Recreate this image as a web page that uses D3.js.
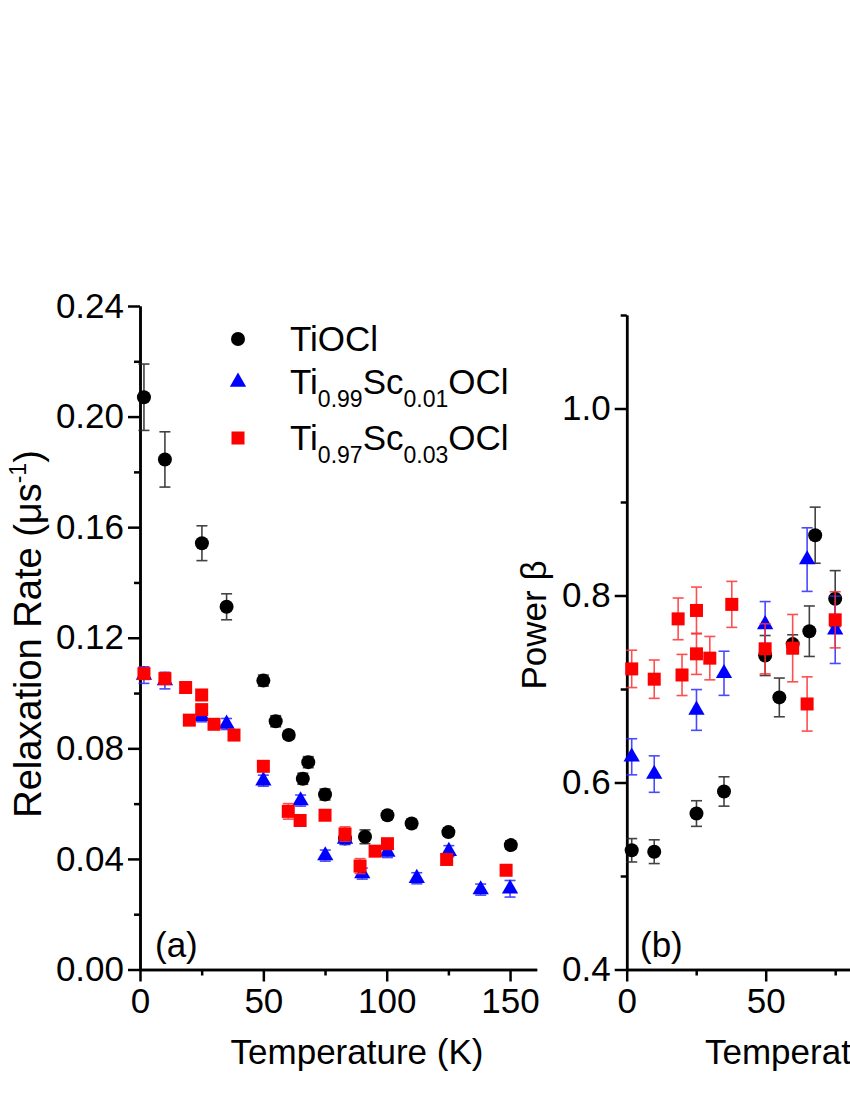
<!DOCTYPE html>
<html>
<head>
<meta charset="utf-8">
<script src="https://cdn.jsdelivr.net/npm/d3@7"></script>
<style>
  body { margin: 0; background: #fff; }
  svg { font-family: "Liberation Sans", Arial, sans-serif; }
</style>
</head>
<body>
<script>
// panel (a) relaxation rate, rows are [T (K), rate (1/us), error]
const rateTiOCl = [
  [1.6, 0.207, 0.012], [10.1, 0.1845, 0.010], [25.1, 0.1542, 0.0063], [35.1, 0.1312, 0.0047],
  [50, 0.1045, 0.002], [55, 0.0898, 0.002], [60.3, 0.0848, 0.0015], [66, 0.069, 0.002],
  [68.2, 0.075, 0.002], [75, 0.0633, 0.002], [83.1, 0.0474, 0.002], [91.2, 0.048, 0.0025],
  [100.3, 0.0558, 0.0015], [110.1, 0.0528, 0.0015], [125, 0.0497, 0.0015], [150.3, 0.045, 0.0015]
];
const rateSc01 = [
  [1.6, 0.1065, 0.003], [10.1, 0.1045, 0.003], [25, 0.0916, 0.002], [35.1, 0.0888, 0.002],
  [50, 0.0683, 0.002], [65.1, 0.0611, 0.002], [75.1, 0.0412, 0.002], [83.1, 0.0472, 0.002],
  [90.1, 0.0347, 0.002], [100.3, 0.0425, 0.002], [112.2, 0.033, 0.002], [125.2, 0.0428, 0.002],
  [138.1, 0.0289, 0.002], [150, 0.0292, 0.003]
];
const rateSc03 = [
  [1.6, 0.107, 0.002], [10.1, 0.1052, 0.002], [18.5, 0.102, 0.0015], [20, 0.0902, 0.0015],
  [25, 0.0993, 0.0015], [25, 0.094, 0.0015], [30, 0.0887, 0.0015], [38.1, 0.0848, 0.0015],
  [50, 0.0735, 0.0015], [60.1, 0.0572, 0.0028], [64.9, 0.0539, 0.0015], [75, 0.0558, 0.0015],
  [83.1, 0.049, 0.0026], [89.2, 0.0374, 0.0027], [95.3, 0.0428, 0.0015], [100.3, 0.0455, 0.0015],
  [124.3, 0.0398, 0.0015], [148.4, 0.0359, 0.0015]
];

// panel (b) power beta, [T (K), beta, error]
const betaTiOCl = [
  [1.8, 0.5275, 0.0125], [9.9, 0.526, 0.0127], [25.1, 0.5668, 0.0137], [35, 0.5904, 0.0157],
  [49.8, 0.7358, 0.0214], [54.9, 0.691, 0.0207], [59.7, 0.748, 0.010], [65.7, 0.7618, 0.027],
  [67.8, 0.8645, 0.030], [75, 0.7966, 0.030]
];
const betaSc01 = [
  [1.8, 0.6275, 0.0193], [9.9, 0.609, 0.0195], [25.1, 0.6776, 0.0218], [35, 0.7168, 0.0236],
  [49.8, 0.769, 0.0245], [64.9, 0.8384, 0.034], [75, 0.7633, 0.036]
];
const betaSc03 = [
  [1.8, 0.7215, 0.020], [9.9, 0.7105, 0.0205], [18.5, 0.775, 0.0223], [19.9, 0.715, 0.022],
  [25.1, 0.784, 0.025], [25.1, 0.7376, 0.022], [29.9, 0.733, 0.0232], [37.8, 0.7905, 0.0246],
  [49.8, 0.743, 0.0268], [59.7, 0.7437, 0.036], [64.9, 0.684, 0.029], [75, 0.774, 0.030]
];

const tempTicksA = [0, 50, 100, 150];
const tempMinorA = [25, 75, 125];
const tempTicksB = [0, 50];   // the rest of panel (b) is off the page
const tempMinorB = [25, 75];
const rateTicks = [0, 0.04, 0.08, 0.12, 0.16, 0.20, 0.24];
const rateMinor = [0.02, 0.06, 0.10, 0.14, 0.18, 0.22];
const betaTicks = [0.4, 0.6, 0.8, 1.0];
const betaMinor = [0.5, 0.7, 0.9, 1.1];

const width = 850, height = 1100;
const fontSize = 35;

const svg = d3.select("body").append("svg")
    .attr("width", width)
    .attr("height", height);

svg.append("rect").attr("width", width).attr("height", height).attr("fill", "#fff");

// scales
const xa = d3.scaleLinear().domain([0, 160.8]).range([140, 536.7]);
const ya = d3.scaleLinear().domain([0, 0.24]).range([969.5, 306]);
const xb = d3.scaleLinear().domain([0, 160]).range([626.7, 1071.5]);
const yb = d3.scaleLinear().domain([0.4, 1.1]).range([969.5, 315]);

const series = [
  { name: "TiOCl", color: "#000", bar: "#222", shape: "circle" },
  { name: "Sc01", color: "#0000ff", bar: "#2a2aff", shape: "triangle" },
  { name: "Sc03", color: "#ff0000", bar: "#ff3030", shape: "square" }
];

function drawAxes(x, y, xTicks, xMinor, yTicks, yMinor, yFormat) {
    // x axis
    svg.append("g")
        .attr("transform", "translate(0," + y.range()[0] + ")")
        .call(d3.axisBottom(x).tickValues(xTicks).tickSize(12).tickSizeOuter(0).tickPadding(7))
        .call(styleAxis);
    svg.append("g")
        .attr("transform", "translate(0," + y.range()[0] + ")")
        .call(d3.axisBottom(x).tickValues(xMinor).tickSize(6).tickSizeOuter(0).tickFormat(""))
        .call(styleAxis);
    // y axis
    svg.append("g")
        .attr("transform", "translate(" + x.range()[0] + ",0)")
        .call(d3.axisLeft(y).tickValues(yTicks).tickSize(12).tickSizeOuter(0).tickPadding(4).tickFormat(yFormat))
        .call(styleAxis);
    svg.append("g")
        .attr("transform", "translate(" + x.range()[0] + ",0)")
        .call(d3.axisLeft(y).tickValues(yMinor).tickSize(6).tickSizeOuter(0).tickFormat(""))
        .call(styleAxis);
}

function styleAxis(g) {
    g.select(".domain").attr("stroke", "#000").attr("stroke-width", 2.5);
    g.selectAll(".tick line").attr("stroke", "#000").attr("stroke-width", 2.5);
    g.selectAll(".tick text")
        .attr("fill", "#000")
        .style("font-size", fontSize + "px")
        .style("font-family", "'Liberation Sans', Arial, sans-serif");
}

function marker(sel, shape, color) {
    if (shape === "circle") {
        sel.append("circle").attr("r", 7).attr("fill", color);
    } else if (shape === "square") {
        sel.append("rect").attr("x", -6.5).attr("y", -6.5).attr("width", 13).attr("height", 13).attr("fill", color);
    } else {
        sel.append("path").attr("d", d3.symbol(d3.symbolTriangle, 115)()).attr("fill", color);
    }
}

function drawSeries(x, y, data, s) {
    const g = svg.append("g");
    const eb = g.selectAll("g.err").data(data).enter().append("g")
        .attr("stroke", s.bar).attr("stroke-width", 1.6).attr("opacity", 0.85);
    eb.append("line")
        .attr("x1", d => x(d[0])).attr("x2", d => x(d[0]))
        .attr("y1", d => y(d[1] - d[2])).attr("y2", d => y(d[1] + d[2]));
    eb.append("line")
        .attr("x1", d => x(d[0]) - 5.5).attr("x2", d => x(d[0]) + 5.5)
        .attr("y1", d => y(d[1] + d[2])).attr("y2", d => y(d[1] + d[2]));
    eb.append("line")
        .attr("x1", d => x(d[0]) - 5.5).attr("x2", d => x(d[0]) + 5.5)
        .attr("y1", d => y(d[1] - d[2])).attr("y2", d => y(d[1] - d[2]));
    const pts = g.selectAll("g.pt").data(data).enter().append("g")
        .attr("transform", d => "translate(" + x(d[0]) + "," + y(d[1]) + ")");
    marker(pts, s.shape, s.color);
}

// panel (a)
drawAxes(xa, ya, tempTicksA, tempMinorA, rateTicks, rateMinor, d3.format(".2f"));
drawSeries(xa, ya, rateTiOCl, series[0]);
drawSeries(xa, ya, rateSc01, series[1]);
drawSeries(xa, ya, rateSc03, series[2]);

// panel (b)
drawAxes(xb, yb, tempTicksB, tempMinorB, betaTicks, betaMinor, d3.format(".1f"));
drawSeries(xb, yb, betaTiOCl, series[0]);
drawSeries(xb, yb, betaSc01, series[1]);
drawSeries(xb, yb, betaSc03, series[2]);

// axis titles
svg.append("text")
    .attr("x", 357).attr("y", 1064)
    .attr("text-anchor", "middle")
    .style("font-size", fontSize + "px")
    .text("Temperature (K)");
svg.append("text")
    .attr("x", 705).attr("y", 1064)
    .style("font-size", fontSize + "px")
    .text("Temperature (K)");

const yTitleA = svg.append("text")
    .attr("transform", "translate(41,634) rotate(-90)")
    .attr("text-anchor", "middle")
    .style("font-size", "38px");
yTitleA.append("tspan").text("Relaxation Rate (\u03bcs");
yTitleA.append("tspan").attr("dy", -15).style("font-size", "23px").text("-1");
yTitleA.append("tspan").attr("dy", 15).text(")");

svg.append("text")
    .attr("transform", "translate(546,625) rotate(-90)")
    .attr("text-anchor", "middle")
    .style("font-size", fontSize + "px")
    .text("Power \u03b2");

// panel tags
svg.append("text").attr("x", 155).attr("y", 957).style("font-size", fontSize + "px").text("(a)");
svg.append("text").attr("x", 640).attr("y", 957).style("font-size", fontSize + "px").text("(b)");

// legend
const legendRows = [
  { s: series[0], y: 339, parts: [["TiOCl", 0]] },
  { s: series[1], y: 382, parts: [["Ti", 0], ["0.99", 1], ["Sc", 0], ["0.01", 1], ["OCl", 0]] },
  { s: series[2], y: 438, parts: [["Ti", 0], ["0.97", 1], ["Sc", 0], ["0.03", 1], ["OCl", 0]] }
];
legendRows.forEach(row => {
    const m = svg.append("g").attr("transform", "translate(238," + row.y + ")");
    marker(m, row.s.shape, row.s.color);
    const t = svg.append("text")
        .attr("x", 290).attr("y", row.y + 12)
        .style("font-size", fontSize + "px");
    let sub = 0;
    row.parts.forEach(p => {
        const dy = p[1] === sub ? 0 : (p[1] ? 13 : -13);
        sub = p[1];
        t.append("tspan")
            .attr("dy", dy)
            .style("font-size", p[1] ? "23px" : fontSize + "px")
            .text(p[0]);
    });
});
</script>
</body>
</html>
